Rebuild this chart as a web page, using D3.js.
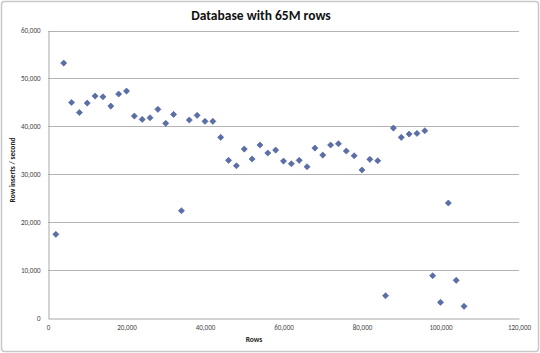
<!DOCTYPE html>
<html><head><meta charset="utf-8">
<script src="https://cdn.jsdelivr.net/npm/d3@7"></script>
<style>
html,body{margin:0;padding:0;background:#fff;}
svg{display:block;}
</style></head>
<body>
<script>
const rows = [2000,4000,6000,8000,10000,12000,14000,16000,18000,20000,22000,24000,26000,28000,30000,32000,34000,36000,38000,40000,42000,44000,46000,48000,50000,52000,54000,56000,58000,60000,62000,64000,66000,68000,70000,72000,74000,76000,78000,80000,82000,84000,86000,88000,90000,92000,94000,96000,98000,100000,102000,104000,106000];
const insertsPerSecond = [17500,53200,45000,42900,44870,46330,46180,44240,46750,47370,42160,41470,41810,43560,40640,42510,22420,41330,42310,41060,41060,37720,32930,31800,35280,33200,36120,34450,35070,32780,32220,32930,31600,35490,34030,36120,36390,34870,33890,30910,33140,32840,4710,39660,37720,38410,38550,39100,8880,3330,24030,7920,2500];
const xTicks = [0,20000,40000,60000,80000,100000,120000];
const yTicks = [0,10000,20000,30000,40000,50000,60000];
const title = "Database with 65M rows";
const xTitle = "Rows";
const yTitle = "Row inserts / second";

const W = 540, H = 353;
const svg = d3.select("body").append("svg").attr("width", W).attr("height", H);
svg.append("rect").attr("x",1.5).attr("y",1.5).attr("width",W-3).attr("height",H-3)
  .attr("rx",3).attr("fill","#fff").attr("stroke","#c8c8c8").attr("stroke-width",1.5);

const x = d3.scaleLinear().domain([0,120000]).range([48,519]);
const y = d3.scaleLinear().domain([0,60000]).range([318.3,30.5]);
const fmt = d3.format(",");
const font = "Calibri, Carlito, 'Liberation Sans', Arial, sans-serif";

// gridlines
svg.append("g").selectAll("line").data(yTicks.filter(d=>d>0)).join("line")
  .attr("x1",x(0)).attr("x2",x(120000))
  .attr("y1",d=>Math.round(y(d))+0.5).attr("y2",d=>Math.round(y(d))+0.5)
  .attr("stroke","#b3b3b3").attr("stroke-width",1);

// axes
const yAxis = d3.axisLeft(y).tickValues(yTicks).tickFormat(fmt).tickSize(0).tickPadding(8);
const gy = svg.append("g").attr("transform",`translate(${Math.round(x(0))+0.5},0)`).call(yAxis);
gy.select(".domain").attr("stroke","#a8a8a8");
gy.selectAll("text").attr("font-family",font).attr("font-size",7).attr("fill","#444");

const xAxis = d3.axisBottom(x).tickValues(xTicks).tickFormat(fmt).tickSize(0).tickPadding(7);
const gx = svg.append("g").attr("transform",`translate(0,${Math.round(y(0))+0.5})`).call(xAxis);
gx.select(".domain").attr("stroke","#a8a8a8");
gx.selectAll("text").attr("font-family",font).attr("font-size",7).attr("fill","#444");

// points
const diamond = d3.symbol().type(d3.symbolDiamond2).size(24);
svg.append("g").selectAll("path").data(rows.map((r,i)=>[r,insertsPerSecond[i]])).join("path")
  .attr("d",diamond)
  .attr("transform",d=>`translate(${x(d[0])},${y(d[1])})`)
  .attr("fill","#5a6ea8").attr("stroke","#4a5d96").attr("stroke-width",0.6);

// titles
svg.append("text").attr("x",261).attr("y",20).attr("text-anchor","middle")
  .attr("font-family",font).attr("font-weight","bold").attr("font-size",13.5).attr("fill","#111").text(title);
svg.append("text").attr("x",254).attr("y",342).attr("text-anchor","middle")
  .attr("font-family",font).attr("font-weight","bold").attr("font-size",7.5).attr("fill","#222").text(xTitle);
svg.append("text").attr("transform","translate(15,170) rotate(-90)").attr("text-anchor","middle")
  .attr("font-family",font).attr("font-weight","bold").attr("font-size",7.5).attr("fill","#222").text(yTitle);
</script>
</body></html>
